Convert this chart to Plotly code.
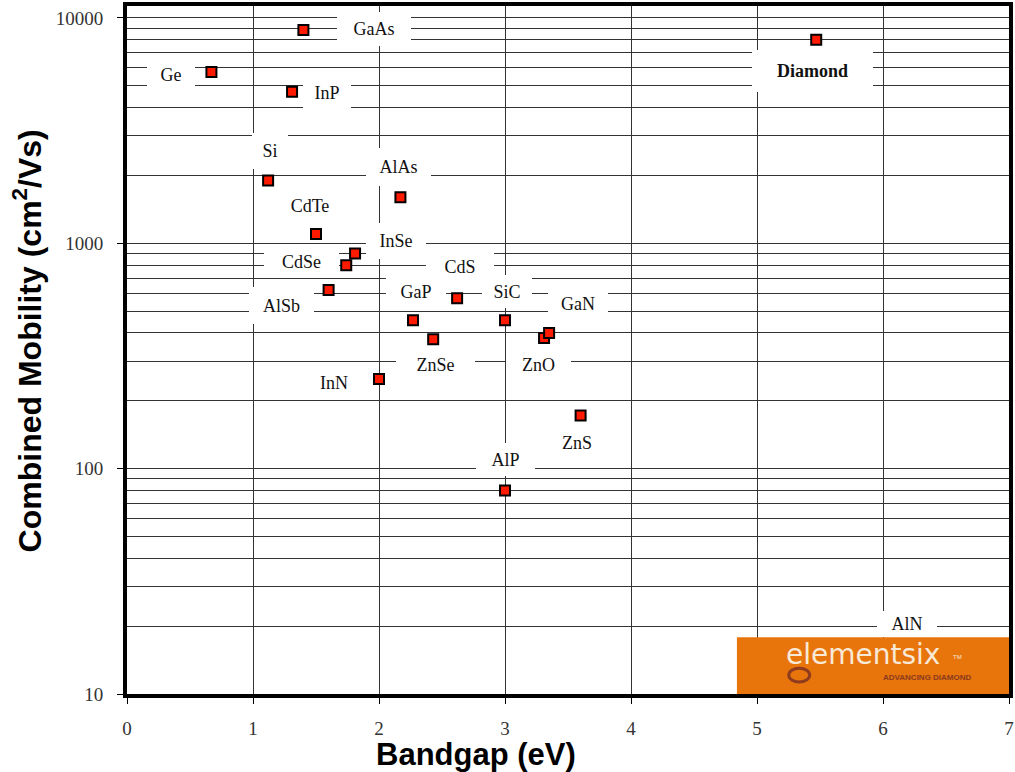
import math
import plotly.graph_objects as go

# ---- data ----
materials = ["GaAs", "Ge", "InP", "Diamond", "Si", "AlAs", "CdTe", "InSe", "CdSe",
             "AlSb", "ZnSe", "CdS", "GaP", "SiC", "ZnO", "GaN", "InN", "ZnS", "AlP", "AlN"]
bandgap = [1.40, 0.67, 1.31, 5.47, 1.12, 2.17, 1.50, 1.81, 1.74,
           1.60, 2.62, 2.43, 2.27, 3.00, 3.31, 3.35, 2.00, 3.60, 3.00, 6.20]
mobility = [8850, 5750, 4700, 8000, 1900, 1600, 1100, 900, 800,
            620, 570, 375, 455, 455, 380, 400, 250, 172, 80, 14]

x_ticks = [0, 1, 2, 3, 4, 5, 6, 7]
y_ticks = [10, 100, 1000, 10000]
y_ticktext = ["10", "100", "1000", "10000"]
y_minor = [m * d for d in (10, 100, 1000) for m in range(2, 10)]

# label placement: (text, x in eV, log10 mobility, box width px, box height px)
labels = [
    ("GaAs", 1.962, 3.951, 74, 34),
    ("Ge", 0.348, 3.749, 48, 34),
    ("InP", 1.590, 3.665, 48, 38),
    ("<b>Diamond</b>", 5.442, 3.766, 121, 42),
    ("Si", 1.131, 3.409, 36, 36),
    ("AlAs", 2.151, 3.338, 65, 38),
    ("CdTe", 1.455, 3.166, 54, 30),
    ("InSe", 2.136, 3.012, 60, 36),
    ("CdSe", 1.384, 2.919, 75, 26),
    ("CdS", 2.642, 2.897, 68, 36),
    ("GaP", 2.294, 2.785, 60, 33),
    ("SiC", 3.014, 2.785, 50, 33),
    ("AlSb", 1.226, 2.725, 65, 37),
    ("GaN", 3.583, 2.729, 60, 34),
    ("ZnSe", 2.452, 2.460, 79, 32),
    ("ZnO", 3.267, 2.460, 65, 32),
    ("InN", 1.645, 2.381, 50, 30),
    ("ZnS", 3.575, 2.116, 50, 30),
    ("AlP", 3.006, 2.039, 59, 33),
    ("AlN", 6.193, 1.312, 60, 26),
]

GRID = "#333333"
serif = "Liberation Serif"
sans = "Liberation Sans"

fig = go.Figure()
fig.add_trace(go.Scatter(
    x=bandgap, y=mobility, mode="markers", text=materials, hoverinfo="text",
    marker=dict(symbol="square", size=10, color="#FF1A00",
                line=dict(color="black", width=2)),
    showlegend=False,
))

annotations = []
for text, lx, ly, w, h in labels:
    annotations.append(dict(
        x=lx, y=ly, xref="x", yref="y", text=text, showarrow=False,
        width=w, height=h, bgcolor="white", borderpad=0, borderwidth=0,
        font=dict(family=serif, size=18, color="#111111"),
        xanchor="center", yanchor="middle", align="center", valign="middle",
    ))

# axis titles
annotations.append(dict(
    x=(477 - 127) / 885, y=(694 - 755) / 692, xref="paper", yref="paper",
    text="<b>Bandgap (eV)</b>", showarrow=False,
    font=dict(family=sans, size=31, color="black"),
    xanchor="center", yanchor="middle"))
annotations.append(dict(
    x=(27 - 127) / 885, y=(694 - 339) / 692, xref="paper", yref="paper",
    text="<b>Combined Mobility (cm<sup>2</sup>/Vs)</b>", showarrow=False,
    textangle=-90, font=dict(family=sans, size=32, color="black"),
    xanchor="center", yanchor="middle"))

# logo text
annotations.append(dict(
    x=(866 - 127) / 885, y=(694 - 654) / 692, xref="paper", yref="paper",
    text="elementsix", showarrow=False,
    font=dict(family="DejaVu Sans", size=28, color="#F8E9D6"),
    xanchor="center", yanchor="middle"))
annotations.append(dict(
    x=(960 - 127) / 885, y=(694 - 657) / 692, xref="paper", yref="paper",
    text="TM", showarrow=False,
    font=dict(family=sans, size=6, color="#F8E9D6"),
    xanchor="center", yanchor="middle"))
annotations.append(dict(
    x=(930 - 127) / 885, y=(694 - 677) / 692, xref="paper", yref="paper",
    text="<b>ADVANCING DIAMOND</b>", showarrow=False,
    font=dict(family=sans, size=8, color="#8A3A1E"),
    xanchor="center", yanchor="middle"))

shapes = [
    dict(type="rect", xref="paper", yref="paper",
         x0=(739 - 127) / 885, x1=1.0, y0=0, y1=(694 - 637) / 692,
         fillcolor="#E8740C", line=dict(width=0), layer="above"),
    dict(type="circle", xref="paper", yref="paper",
         x0=(791 - 127) / 885, x1=(812 - 127) / 885,
         y0=(694 - 682) / 692, y1=(694 - 668) / 692,
         line=dict(color="#8E3B1E", width=3), layer="above"),
]

fig.update_layout(
    width=1015, height=772,
    margin=dict(l=127, r=3, t=2, b=78),
    paper_bgcolor="white", plot_bgcolor="white",
    annotations=annotations, shapes=shapes,
    xaxis=dict(
        range=[0, 7], tickmode="array", tickvals=x_ticks,
        showgrid=True, gridcolor=GRID, gridwidth=1, zeroline=False,
        showline=True, linecolor="black", linewidth=4, mirror=True,
        ticks="outside", ticklen=6, tickwidth=1, tickcolor="black",
        ticklabelstandoff=8,
        tickfont=dict(family=serif, size=19, color="#333333"),
    ),
    yaxis=dict(
        type="log", range=[1, 4.053], tickmode="array",
        tickvals=y_ticks, ticktext=y_ticktext,
        showgrid=True, gridcolor=GRID, gridwidth=1, zeroline=False,
        minor=dict(tickmode="array", tickvals=y_minor, showgrid=True,
                   gridcolor=GRID, gridwidth=1, ticks=""),
        showline=True, linecolor="black", linewidth=4, mirror=True,
        ticks="outside", ticklen=6, tickwidth=1, tickcolor="black",
        ticklabelstandoff=10,
        tickfont=dict(family=serif, size=19, color="#333333"),
    ),
)

fig.write_html("out.html", config={"displayModeBar": False},
               post_script="document.body.style.margin='0';document.body.style.overflow='hidden';")
